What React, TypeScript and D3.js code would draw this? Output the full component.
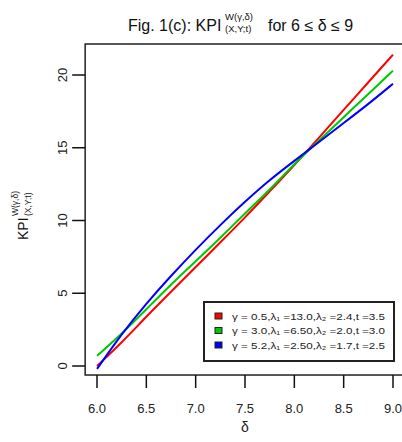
import React from "react";
import * as d3 from "d3";

// delta values on the x axis
const deltas = [6.0, 6.25, 6.5, 6.75, 7.0, 7.25, 7.5, 7.75, 8.0, 8.25, 8.5, 8.75, 9.0];

// KPI values, one array per parameter set
const redValues = [0.0, 1.6, 3.4, 5.1, 6.8, 8.5, 10.2, 12.0, 13.8, 15.7, 17.6, 19.5, 21.4];
const greenValues = [0.7, 2.2, 3.9, 5.6, 7.2, 8.8, 10.5, 12.1, 13.9, 15.5, 17.1, 18.7, 20.3];
const blueValues = [-0.2, 2.2, 4.3, 6.2, 8.0, 9.7, 11.3, 12.8, 14.1, 15.4, 16.7, 18.0, 19.4];

const xTicks = [6.0, 6.5, 7.0, 7.5, 8.0, 8.5, 9.0];
const yTicks = [0, 5, 10, 15, 20];

const legendLabels = [
  "γ = 0.5,λ₁ =13.0,λ₂ =2.4,t =3.5",
  "γ = 3.0,λ₁ =6.50,λ₂ =2.0,t =3.0",
  "γ = 5.2,λ₁ =2.50,λ₂ =1.7,t =2.5",
];
const colors = ["#ff0000", "#00c800", "#0000ff"];

const font = "'Liberation Sans', Arial, sans-serif";

const App = () => {
  const width = 402;
  const height = 442;

  const x = d3.scaleLinear().domain([6, 9]).range([97, 393]);
  const y = d3.scaleLinear().domain([0, 20]).range([366, 75]);

  const series = [redValues, greenValues, blueValues];

  const line = d3
    .line<number>()
    .x((d, i) => x(deltas[i]))
    .y((d) => y(d))
    .curve(d3.curveBasis);

  // plot box (R style, 4% extension)
  const boxLeft = x(5.88);
  const boxRight = x(9.12);
  const boxTop = y(22.13);
  const boxBottom = y(-0.62);

  return (
    <svg
      width={width}
      height={height}
      style={{ position: "absolute", left: 0, top: 0, background: "#fff" }}
      fontFamily={font}
    >
      <rect x={0} y={0} width={width} height={height} fill="#fff" />

      {/* title */}
      <text x={128} y={31} fontSize={16} fill="#111">
        Fig. 1(c): KPI
      </text>
      <text x={225} y={20} fontSize={9.5} fill="#111">
        W(γ,δ)
      </text>
      <text x={225} y={32} fontSize={9.5} fill="#111">
        (X,Y;t)
      </text>
      <text x={268} y={31} fontSize={16} fill="#111">
        for 6 ≤ δ ≤ 9
      </text>

      {/* series */}
      {series.map((vals, i) => (
        <path
          key={i}
          d={line(vals) || ""}
          fill="none"
          stroke={colors[i]}
          strokeWidth={2}
        />
      ))}

      {/* box */}
      <rect
        x={boxLeft}
        y={boxTop}
        width={boxRight - boxLeft}
        height={boxBottom - boxTop}
        fill="none"
        stroke="#222"
        strokeWidth={1.5}
      />

      {/* x axis */}
      {xTicks.map((t) => (
        <g key={t}>
          <line x1={x(t)} x2={x(t)} y1={boxBottom} y2={boxBottom + 13} stroke="#111" strokeWidth={1.5} />
          <text x={x(t)} y={413} fontSize={13} textAnchor="middle" fill="#222">
            {t.toFixed(1)}
          </text>
        </g>
      ))}
      <text x={245} y={432} fontSize={14} textAnchor="middle" fill="#222">
        δ
      </text>

      {/* y axis */}
      {yTicks.map((t) => (
        <g key={t}>
          <line x1={boxLeft - 13} x2={boxLeft} y1={y(t)} y2={y(t)} stroke="#111" strokeWidth={1.5} />
          <text
            transform={`translate(67,${y(t)}) rotate(-90)`}
            fontSize={13}
            textAnchor="middle"
            fill="#222"
          >
            {t}
          </text>
        </g>
      ))}
      <g transform="translate(28,240) rotate(-90)">
        <text x={0} y={0} fontSize={14} fill="#111">
          KPI
        </text>
        <text x={24} y={-10} fontSize={8.5} fill="#111">
          W(γ,δ)
        </text>
        <text x={24} y={3} fontSize={8.5} fill="#111">
          (X,Y;t)
        </text>
      </g>

      {/* legend */}
      <rect x={204} y={302} width={190} height={59} fill="#fff" stroke="#222" strokeWidth={2} />
      {legendLabels.map((lab, i) => (
        <g key={lab} transform={`translate(0,${316 + i * 14.5})`}>
          <rect x={215} y={-3} width={7} height={6} fill={colors[i]} stroke="#222" strokeWidth={1} />
          <text x={232} y={3.5} fontSize={9} fill="#222" textLength={153} lengthAdjust="spacingAndGlyphs">
            {lab}
          </text>
        </g>
      ))}
    </svg>
  );
};

export default App;
